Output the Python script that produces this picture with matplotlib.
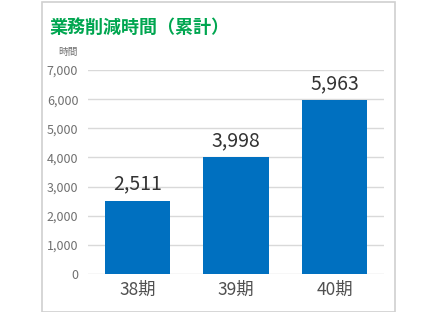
import matplotlib
matplotlib.use("Agg")
import matplotlib.pyplot as plt
from matplotlib.patches import Rectangle

plt.rcParams['font.family'] = ['Noto Sans CJK JP', 'DejaVu Sans']

# データ
periods = ['38期', '39期', '40期']
hours = [2511, 3998, 5963]
yticks = [0, 1000, 2000, 3000, 4000, 5000, 6000, 7000]

fig = plt.figure(figsize=(4.4, 3.12), dpi=100)
ax = fig.add_axes([88 / 440, 1 - 274 / 312, 296 / 440, 204 / 312])

# 外枠
fig.patches.append(Rectangle((42 / 440, 0.5 / 312), 353 / 440, 310 / 312,
                             transform=fig.transFigure, fill=False,
                             edgecolor='#d0d0d0', linewidth=1.2))

bars = ax.bar(range(len(periods)), hours, width=0.66, color='#0070c0', zorder=3)
for b, v in zip(bars, hours):
    ax.text(b.get_x() + b.get_width() / 2, v + 220, f'{v:,}', ha='center', va='bottom',
            fontsize=14, color='#333333')

ax.set_xlim(-0.5, len(periods) - 0.5)
ax.set_ylim(0, 7000)
ax.set_yticks(yticks)
ax.set_yticklabels([f'{t:,}' for t in yticks], fontsize=9, color='#707070')
ax.set_xticks(range(len(periods)))
ax.set_xticklabels(periods, fontsize=12.5, color='#505050')
ax.tick_params(length=0, pad=7)
ax.tick_params(axis='x', pad=5)
ax.grid(axis='y', color='#d9d9d9', linewidth=1, zorder=0)
for s in ax.spines.values():
    s.set_visible(False)

fig.text(50 / 440, 1 - 27 / 312, '業務削減時間（累計）', fontsize=13, fontweight='bold',
         color='#00a650', ha='left', va='center')
fig.text(68 / 440, 1 - 52 / 312, '時間', fontsize=7, color='#707070', ha='center', va='center')

fig.savefig('out.png', dpi=100)
